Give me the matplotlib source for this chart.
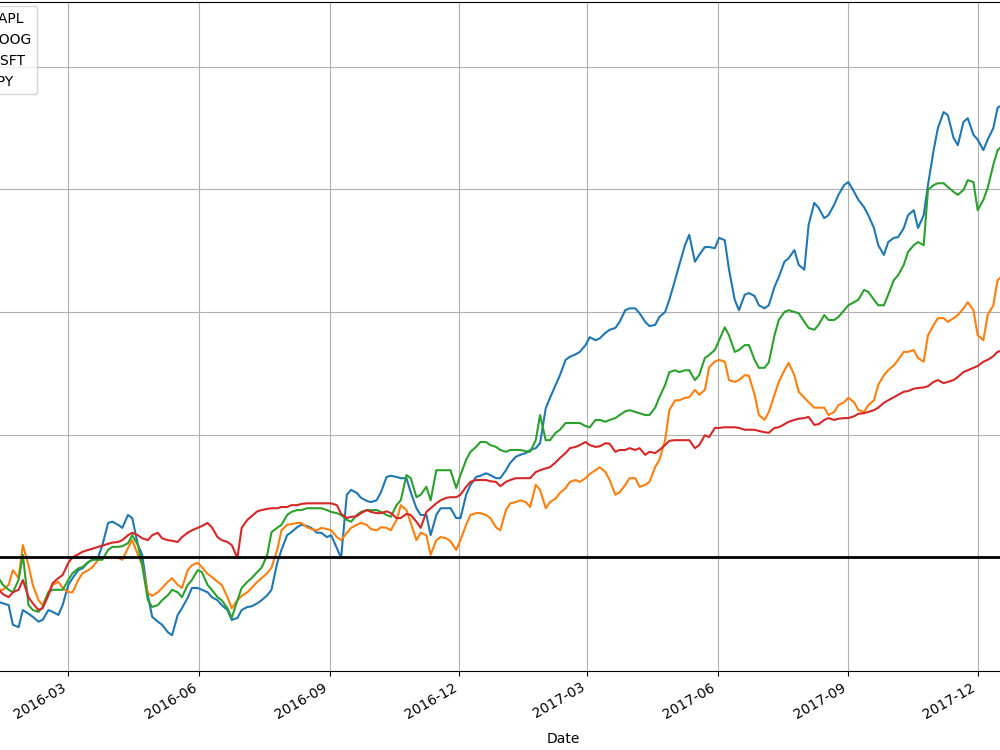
import matplotlib

matplotlib.use("Agg")
import matplotlib.pyplot as plt
import matplotlib.dates as mdates
import pandas as pd

# Tuesday and Friday closes, normalised to the first trading day of 2016
tuesdays = pd.date_range("2016-01-05", periods=104, freq="W-TUE")
fridays = pd.date_range("2016-01-08", periods=104, freq="W-FRI")
dates = tuesdays.append(fridays).sort_values()

aapl = [
    0.934, 0.930, 0.927, 0.925, 0.922, 0.890, 0.886, 0.914, 0.908, 0.903,
    0.895, 0.898, 0.914, 0.911, 0.906, 0.922, 0.955, 0.966, 0.979, 0.982,
    0.992, 0.996, 1.000, 1.020, 1.056, 1.058, 1.053, 1.048, 1.069, 1.064,
    1.020, 1.004, 0.938, 0.903, 0.895, 0.890, 0.878, 0.873, 0.906, 0.917,
    0.934, 0.950, 0.950, 0.947, 0.943, 0.935, 0.930, 0.922, 0.914, 0.898,
    0.901, 0.914, 0.919, 0.920, 0.925, 0.930, 0.938, 0.947, 0.991, 1.012,
    1.036, 1.041, 1.049, 1.053, 1.051, 1.048, 1.040, 1.040, 1.033, 1.036,
    1.015, 0.999, 1.102, 1.110, 1.105, 1.097, 1.092, 1.090, 1.093, 1.106,
    1.131, 1.133, 1.131, 1.129, 1.129, 1.106, 1.080, 1.069, 1.069, 1.036,
    1.069, 1.080, 1.080, 1.080, 1.064, 1.064, 1.102, 1.118, 1.131, 1.133,
    1.137, 1.134, 1.129, 1.129, 1.142, 1.154, 1.164, 1.167, 1.170, 1.175,
    1.178, 1.186, 1.243, 1.260, 1.281, 1.297, 1.322, 1.327, 1.331, 1.335,
    1.346, 1.359, 1.354, 1.357, 1.366, 1.371, 1.374, 1.384, 1.403, 1.406,
    1.406, 1.398, 1.384, 1.377, 1.379, 1.392, 1.400, 1.420, 1.452, 1.477,
    1.509, 1.526, 1.482, 1.493, 1.506, 1.506, 1.504, 1.521, 1.517, 1.469,
    1.420, 1.403, 1.428, 1.431, 1.426, 1.411, 1.406, 1.411, 1.441, 1.457,
    1.482, 1.488, 1.501, 1.477, 1.469, 1.542, 1.578, 1.570, 1.553, 1.558,
    1.575, 1.591, 1.607, 1.612, 1.596, 1.583, 1.571, 1.558, 1.537, 1.509,
    1.493, 1.514, 1.521, 1.522, 1.537, 1.558, 1.566, 1.537, 1.558, 1.607,
    1.664, 1.700, 1.726, 1.721, 1.684, 1.672, 1.710, 1.716, 1.689, 1.681,
    1.664, 1.681, 1.700, 1.733, 1.739, 1.746, 1.749, 1.755,
]
goog = [
    0.955, 0.950, 0.947, 0.947, 0.955, 0.979, 0.966, 1.020, 0.987, 0.955,
    0.930, 0.922, 0.943, 0.955, 0.960, 0.950, 0.943, 0.943, 0.963, 0.974,
    0.979, 0.984, 0.996, 0.999, 1.000, 1.000, 0.999, 0.996, 1.015, 1.028,
    1.004, 0.987, 0.942, 0.937, 0.943, 0.950, 0.960, 0.966, 0.955, 0.950,
    0.979, 0.987, 0.991, 0.984, 0.973, 0.968, 0.960, 0.955, 0.935, 0.917,
    0.930, 0.937, 0.943, 0.950, 0.960, 0.966, 0.974, 0.983, 1.012, 1.044,
    1.053, 1.054, 1.056, 1.056, 1.049, 1.046, 1.044, 1.048, 1.046, 1.044,
    1.033, 1.028, 1.040, 1.048, 1.053, 1.056, 1.053, 1.046, 1.044, 1.049,
    1.048, 1.044, 1.061, 1.085, 1.077, 1.056, 1.028, 1.040, 1.036, 1.004,
    1.028, 1.033, 1.031, 1.026, 1.012, 1.028, 1.053, 1.069, 1.072, 1.072,
    1.069, 1.064, 1.049, 1.044, 1.077, 1.088, 1.090, 1.093, 1.090, 1.082,
    1.118, 1.110, 1.080, 1.090, 1.096, 1.105, 1.113, 1.123, 1.126, 1.123,
    1.129, 1.136, 1.142, 1.147, 1.139, 1.126, 1.102, 1.106, 1.118, 1.129,
    1.129, 1.115, 1.118, 1.123, 1.147, 1.159, 1.191, 1.240, 1.256, 1.256,
    1.260, 1.261, 1.273, 1.265, 1.273, 1.310, 1.319, 1.322, 1.319, 1.289,
    1.286, 1.289, 1.297, 1.296, 1.265, 1.232, 1.224, 1.237, 1.265, 1.286,
    1.305, 1.317, 1.297, 1.270, 1.260, 1.253, 1.244, 1.244, 1.244, 1.232,
    1.237, 1.248, 1.253, 1.260, 1.253, 1.240, 1.237, 1.248, 1.256, 1.281,
    1.297, 1.305, 1.313, 1.322, 1.335, 1.335, 1.338, 1.325, 1.319, 1.362,
    1.379, 1.390, 1.390, 1.384, 1.390, 1.395, 1.406, 1.416, 1.403, 1.362,
    1.354, 1.395, 1.411, 1.452, 1.460, 1.465, 1.469, 1.472,
]
msft = [
    0.976, 0.971, 0.966, 0.955, 0.947, 0.943, 0.963, 1.004, 0.922, 0.914,
    0.911, 0.919, 0.943, 0.947, 0.947, 0.947, 0.963, 0.974, 0.982, 0.984,
    0.992, 0.996, 0.996, 0.996, 1.012, 1.017, 1.017, 1.018, 1.023, 1.036,
    1.020, 0.987, 0.930, 0.919, 0.922, 0.930, 0.938, 0.947, 0.943, 0.935,
    0.955, 0.963, 0.979, 0.976, 0.955, 0.947, 0.935, 0.930, 0.917, 0.901,
    0.930, 0.950, 0.960, 0.966, 0.976, 0.983, 1.004, 1.041, 1.048, 1.053,
    1.069, 1.074, 1.077, 1.077, 1.080, 1.080, 1.080, 1.080, 1.077, 1.074,
    1.072, 1.069, 1.061, 1.058, 1.069, 1.074, 1.077, 1.077, 1.077, 1.074,
    1.069, 1.066, 1.085, 1.093, 1.134, 1.129, 1.098, 1.102, 1.115, 1.093,
    1.142, 1.142, 1.142, 1.142, 1.113, 1.134, 1.159, 1.172, 1.180, 1.188,
    1.188, 1.183, 1.180, 1.175, 1.172, 1.175, 1.175, 1.175, 1.173, 1.172,
    1.191, 1.232, 1.191, 1.191, 1.203, 1.208, 1.219, 1.219, 1.219, 1.219,
    1.214, 1.212, 1.224, 1.224, 1.221, 1.224, 1.227, 1.232, 1.238, 1.240,
    1.237, 1.235, 1.232, 1.232, 1.244, 1.261, 1.281, 1.302, 1.305, 1.302,
    1.305, 1.305, 1.289, 1.297, 1.325, 1.330, 1.338, 1.354, 1.375, 1.362,
    1.335, 1.338, 1.346, 1.346, 1.322, 1.309, 1.309, 1.318, 1.362, 1.387,
    1.400, 1.403, 1.400, 1.398, 1.384, 1.374, 1.371, 1.379, 1.395, 1.387,
    1.387, 1.392, 1.403, 1.411, 1.416, 1.420, 1.436, 1.433, 1.420, 1.411,
    1.411, 1.428, 1.452, 1.460, 1.477, 1.498, 1.509, 1.514, 1.509, 1.599,
    1.607, 1.610, 1.610, 1.604, 1.596, 1.591, 1.599, 1.615, 1.612, 1.566,
    1.583, 1.602, 1.640, 1.664, 1.672, 1.681, 1.685, 1.690,
]
spy = [
    0.947, 0.950, 0.947, 0.940, 0.935, 0.943, 0.947, 0.963, 0.935, 0.925,
    0.914, 0.917, 0.938, 0.958, 0.966, 0.971, 0.991, 1.000, 1.005, 1.009,
    1.012, 1.014, 1.017, 1.019, 1.022, 1.024, 1.025, 1.028, 1.036, 1.040,
    1.036, 1.031, 1.028, 1.036, 1.040, 1.031, 1.028, 1.027, 1.025, 1.033,
    1.040, 1.044, 1.048, 1.051, 1.056, 1.049, 1.033, 1.028, 1.025, 1.020,
    0.999, 1.048, 1.061, 1.067, 1.075, 1.077, 1.079, 1.080, 1.080, 1.082,
    1.082, 1.085, 1.085, 1.087, 1.088, 1.088, 1.088, 1.088, 1.088, 1.088,
    1.085, 1.071, 1.064, 1.066, 1.067, 1.072, 1.077, 1.074, 1.072, 1.072,
    1.075, 1.072, 1.064, 1.064, 1.071, 1.069, 1.058, 1.048, 1.074, 1.080,
    1.088, 1.093, 1.097, 1.098, 1.098, 1.102, 1.115, 1.123, 1.126, 1.126,
    1.126, 1.124, 1.123, 1.116, 1.123, 1.126, 1.129, 1.129, 1.129, 1.129,
    1.139, 1.142, 1.145, 1.147, 1.155, 1.162, 1.170, 1.178, 1.180, 1.183,
    1.188, 1.183, 1.180, 1.181, 1.186, 1.185, 1.172, 1.175, 1.175, 1.178,
    1.175, 1.178, 1.167, 1.172, 1.170, 1.175, 1.183, 1.190, 1.191, 1.191,
    1.191, 1.191, 1.178, 1.183, 1.199, 1.196, 1.211, 1.211, 1.212, 1.212,
    1.212, 1.211, 1.208, 1.208, 1.208, 1.206, 1.204, 1.203, 1.211, 1.212,
    1.217, 1.221, 1.224, 1.226, 1.227, 1.229, 1.216, 1.217, 1.224, 1.227,
    1.224, 1.226, 1.227, 1.227, 1.230, 1.234, 1.235, 1.237, 1.240, 1.244,
    1.252, 1.256, 1.261, 1.265, 1.270, 1.271, 1.275, 1.276, 1.277, 1.279,
    1.286, 1.289, 1.284, 1.286, 1.289, 1.294, 1.302, 1.305, 1.309, 1.312,
    1.319, 1.322, 1.328, 1.335, 1.338, 1.341, 1.345, 1.346,
]
series = {"AAPL": aapl, "GOOG": goog, "MSFT": msft, "SPY": spy}

fig = plt.figure(figsize=(10, 7.5), dpi=100)
# the original is a crop of a wider figure: axes run past both edges
ax = fig.add_axes([-0.06, 0.106, 1.246, 0.8913])

for name, vals in series.items():
    ax.plot(dates, vals, label=name, linewidth=1.5)

ax.axhline(1.0, color="black", linewidth=2)
ax.grid(True)
ax.legend(loc="upper left", borderaxespad=0.3)

ax.set_xlim(pd.Timestamp("2016-03-01") - pd.Timedelta(days=90.3),
            pd.Timestamp("2016-03-01") + pd.Timedelta(days=786.6))
ax.set_ylim(0.8154, 1.9055)

ax.xaxis.set_major_locator(mdates.MonthLocator(bymonth=[3, 6, 9, 12]))
ax.xaxis.set_major_formatter(mdates.DateFormatter("%Y-%m"))
for lbl in ax.get_xticklabels():
    lbl.set_rotation(30)
    lbl.set_ha("right")
ax.set_xlabel("Date", labelpad=8)

fig.savefig("out.png", dpi=100)
